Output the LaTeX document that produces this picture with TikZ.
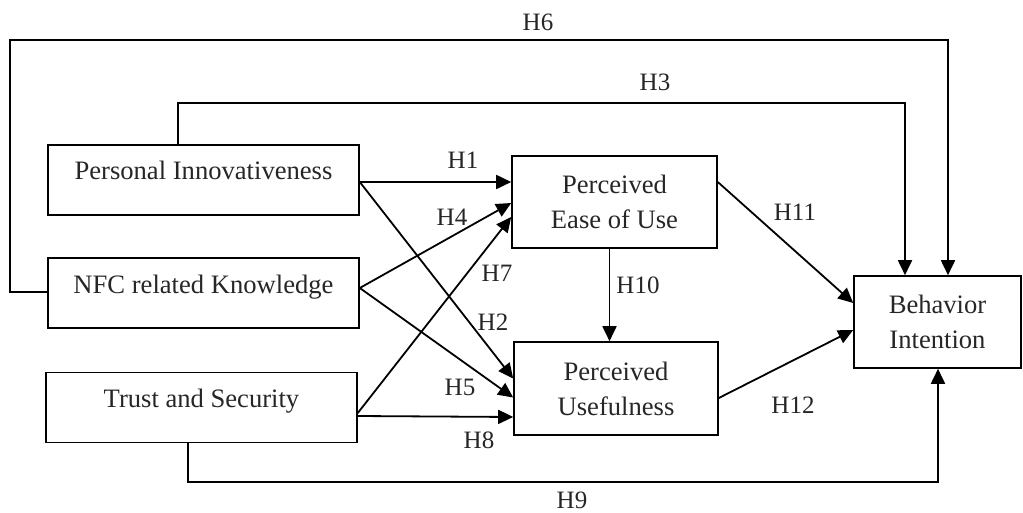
\documentclass[tikz,border=0pt]{standalone}
\usepackage{fontspec}
\setmainfont{Liberation Serif}
\usetikzlibrary{arrows.meta}
\begin{document}
\begin{tikzpicture}[x=1pt,y=-1pt,
  box/.style={draw,line width=1.6pt,inner sep=0pt,text height=35pt,text depth=35pt,
    font=\fontsize{26.6}{35}\selectfont,text=black!85},
  mbox/.style={draw,line width=1.6pt,inner sep=0pt,align=center,
    font=\fontsize{26.6}{35}\selectfont,text=black!85},
  arr/.style={line width=1.8pt,-{Triangle[length=15pt,width=14pt]}},
  hl/.style={font=\fontsize{25}{30}\selectfont,text=black!85,inner sep=0pt}]
\useasboundingbox (0,0) rectangle (1023,513);
\node[box,minimum width=311pt] (PI) at (203.5,180) {Personal Innovativeness};
\node[box,minimum width=311pt] (NFC) at (203.5,293) {NFC related Knowledge};
\node[box,minimum width=311pt] (TS) at (201.5,407.5) {Trust and Security};
\node[mbox,minimum width=205pt,minimum height=92pt] (PEU) at (614.5,202) {Perceived\\Ease of Use};
\node[mbox,minimum width=204pt,minimum height=93pt] (PU) at (616,388.5) {Perceived\\Usefulness};
\node[mbox,minimum width=167pt,minimum height=92pt] (BI) at (937.5,322) {Behavior\\Intention};

% H1, H2
\draw[arr] ([yshift=-2pt]PI.east) -- ([yshift=20pt]PEU.west);
\draw[arr] ([yshift=-2pt]PI.east) -- ([yshift=10pt]PU.west);
% H4, H5
\draw[arr] ([yshift=5pt]NFC.east) -- ([yshift=-1pt]PEU.west);
\draw[arr] ([yshift=5pt]NFC.east) -- ([yshift=-9pt]PU.west);
% H7, H8
\draw[arr] ([yshift=-5.5pt]TS.east) -- ([yshift=-15pt]PEU.west);
\draw[arr] ([yshift=-8.5pt]TS.east) -- ([yshift=-28.5pt]PU.west);
% H10
\draw[arr] ([xshift=-5pt]PEU.south) -- ([xshift=-6.5pt]PU.north);
% H11, H12
\draw[arr] ([yshift=20pt]PEU.east) -- ([yshift=19pt]BI.west);
\draw[arr] ([yshift=-9.5pt]PU.east) -- ([yshift=-8pt]BI.west);
% H3
\draw[arr] ([xshift=-25.5pt]PI.north) -- ++(0,-41) -| ([xshift=-32.5pt]BI.north);
% H6
\draw[arr] ([yshift=1pt]NFC.west) -- ++(-37,0) -- ++(0,-252) -| ([xshift=10.5pt]BI.north);
% H9
\draw[arr] ([xshift=-13.5pt]TS.south) -- ++(0,39) -| ([xshift=0.5pt]BI.south);

\node[hl] (h6) at (538,22) {H6};
\node[hl] (h3) at (655,82) {H3};
\node[hl] (h1) at (463,160) {H1};
\node[hl] (h4) at (452,217) {H4};
\node[hl] (h7) at (497,273) {H7};
\node[hl] (h2) at (493,322) {H2};
\node[hl] (h5) at (460,387) {H5};
\node[hl] (h8) at (479,440) {H8};
\node[hl] (h10) at (638,285) {H10};
\node[hl] (h11) at (795,212) {H11};
\node[hl] (h12) at (793,405) {H12};
\node[hl] (h9) at (572,500) {H9};
\end{tikzpicture}
\end{document}
